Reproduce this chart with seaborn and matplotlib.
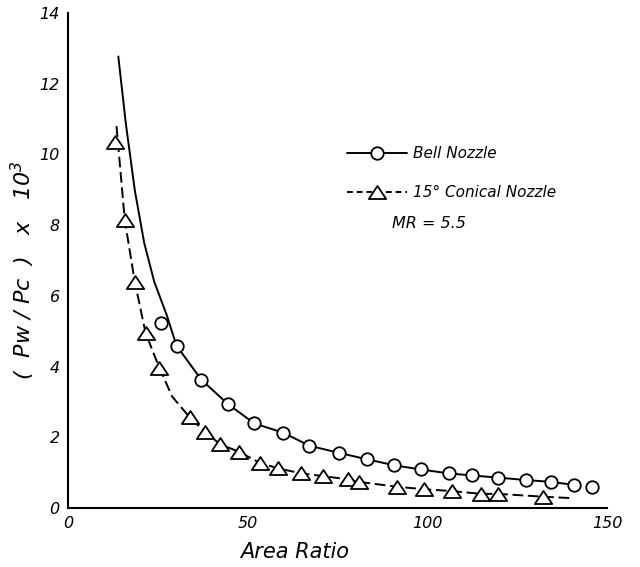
import matplotlib
matplotlib.use("Agg")
import matplotlib.pyplot as plt
import seaborn as sns
from matplotlib.lines import Line2D
from matplotlib.path import Path

# ---- data ----
bell_x = [26.0, 30.2, 37.1, 44.6, 51.9, 59.9, 67.2, 75.4, 83.1, 90.7, 98.1,
          105.9, 112.4, 119.8, 127.4, 134.4, 140.9, 145.9]
bell_y = [5.24, 4.59, 3.63, 2.93, 2.39, 2.13, 1.76, 1.56, 1.38, 1.21, 1.09,
          0.98, 0.92, 0.86, 0.79, 0.74, 0.65, 0.58]

bell_curve_x = [14.0, 16.1, 18.6, 21.2, 24.0, 27.5, 30.2, 37.1, 44.6, 51.9,
                59.9, 67.2, 75.4, 83.1, 90.7, 98.1, 105.9, 112.4, 119.8, 127.4,
                134.4, 140.9]
bell_curve_y = [12.77, 10.87, 8.98, 7.5, 6.4, 5.45, 4.59, 3.63, 2.93, 2.39,
                2.13, 1.76, 1.56, 1.38, 1.21, 1.09, 0.98, 0.92, 0.86, 0.79,
                0.74, 0.65]

cone_x = [13.1, 15.8, 18.6, 21.6, 25.4, 33.9, 38.1, 42.2, 47.6, 53.3, 58.5,
          64.9, 71.1, 77.9, 80.9, 91.6, 99.2, 106.8, 114.9, 119.7, 132.2]
cone_y = [10.35, 8.14, 6.39, 4.95, 3.97, 2.56, 2.16, 1.81, 1.59, 1.28, 1.12,
          0.98, 0.90, 0.81, 0.74, 0.60, 0.53, 0.48, 0.40, 0.40, 0.32]

cone_curve_x = [13.5, 15.8, 18.6, 21.6, 25.4, 29.0, 33.9, 38.1, 42.2, 47.6,
                53.3, 58.5, 64.9, 71.1, 77.9, 80.9, 91.6, 99.2, 106.8, 114.9,
                119.7, 132.2, 139.9]
cone_curve_y = [10.8, 8.14, 6.39, 4.95, 3.97, 3.15, 2.56, 2.16, 1.81, 1.59,
                1.28, 1.12, 0.98, 0.90, 0.81, 0.74, 0.60, 0.53, 0.48, 0.40,
                0.40, 0.32, 0.28]

x_ticks = [0, 50, 100, 150]
y_ticks = [0, 2, 4, 6, 8, 10, 12, 14]

labels = ["Bell Nozzle", "15° Conical Nozzle"]
annotation = "MR = 5.5"

# ---- figure ----
sns.set_style("white")
plt.rcParams["font.family"] = ["DejaVu Sans"]
plt.rcParams["font.style"] = "italic"
for k in ["text.color", "axes.labelcolor", "xtick.color", "ytick.color"]:
    plt.rcParams[k] = "black"

fig = plt.figure(figsize=(6.4, 5.67), dpi=100)
ax = fig.add_axes([68/640, 1 - 508/567, (607-68)/640, (508-13)/567])

tri = Path([(-1, -0.75), (1, -0.75), (0, 0.75), (-1, -0.75)],
           [Path.MOVETO, Path.LINETO, Path.LINETO, Path.CLOSEPOLY])

sns.lineplot(x=bell_curve_x, y=bell_curve_y, ax=ax, color="black",
             linewidth=1.4, sort=False, estimator=None)
sns.lineplot(x=cone_curve_x, y=cone_curve_y, ax=ax, color="black",
             linewidth=1.4, sort=False, estimator=None,
             linestyle=(0, (5.5, 2.4)))
sns.lineplot(x=bell_x, y=bell_y, ax=ax, linestyle="", marker="o",
             markersize=9, markerfacecolor="white", markeredgecolor="black",
             markeredgewidth=1.3, sort=False, estimator=None, color="black")
sns.lineplot(x=cone_x, y=cone_y, ax=ax, linestyle="", marker=tri,
             markersize=12.5, markerfacecolor="white", markeredgecolor="black",
             markeredgewidth=1.3, sort=False, estimator=None, color="black")

ax.set_xlim(0, 150)
ax.set_ylim(0, 14)
ax.set_xticks(x_ticks)
ax.set_yticks(y_ticks)
ax.tick_params(direction="in", length=6, width=1.3, color="black",
               labelsize=11.5, pad=6)
for s in ["top", "right"]:
    ax.spines[s].set_visible(False)
for s in ["left", "bottom"]:
    ax.spines[s].set_linewidth(1.5)
    ax.spines[s].set_color("black")

ax.set_xlabel("Area Ratio", fontsize=15, style="italic")
ax.xaxis.set_label_coords((295-68)/(607-68), -0.068)
ax.set_ylabel("(  Pw / Pc  )   x   10$^3$", fontsize=16, style="italic")
ax.yaxis.set_label_coords(-0.058, 0.48)

handles = [
    Line2D([0], [0], color="black", lw=1.4, marker="o", markersize=9,
           markerfacecolor="white", markeredgecolor="black", markeredgewidth=1.3),
    Line2D([0], [0], color="black", lw=1.4, linestyle=(0, (3, 2)), marker=tri,
           markersize=12.5, markerfacecolor="white", markeredgecolor="black",
           markeredgewidth=1.3),
]
fig.legend(handles, labels, loc="upper left",
           bbox_to_anchor=(347/640, 1 - 146/567), frameon=False,
           fontsize=11, handlelength=3.9, handletextpad=0.4,
           labelspacing=1.6, borderpad=0, borderaxespad=0)

ax.text(90.3, 8.05, annotation, fontsize=11.5, style="italic",
        va="center", ha="left")

fig.savefig("out.png", dpi=100)
